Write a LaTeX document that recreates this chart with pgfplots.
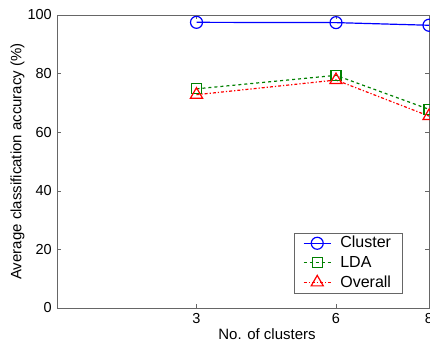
\documentclass[border=0pt]{standalone}
\usepackage{pgfplots}
\pgfplotsset{compat=1.18}
\usepackage{fontspec}
\setmainfont{Liberation Sans}
\definecolor{mgreen}{rgb}{0,0.5,0}
\begin{document}
\fontsize{15}{17}\selectfont
\begin{tikzpicture}
\begin{axis}[
  scale only axis,
  width=372pt, height=293pt,
  xmin=0, xmax=8, ymin=0, ymax=100,
  xtick={3,6,8}, ytick={0,20,40,60,80,100},
  tick align=inside,
  major tick length=4pt,
  axis line style={gray!80!black},
  tick style={gray!80!black},
  /pgf/number format/assume math mode=true,
  ticklabel style={font=\fontsize{14.5}{16}\selectfont},
  label style={font=\fontsize{15}{17}\selectfont},
  xlabel={No. of clusters},
  ylabel={Average classification accuracy (\%)},
  xlabel style={xshift=24pt, yshift=5pt},
  ylabel style={yshift=-7pt},
  legend style={at={(axis description cs:0.928,0.0512)}, anchor=south east,
    draw=gray!80!black, font=\fontsize{16}{18}\selectfont,
    row sep=2pt, inner xsep=9pt, inner ysep=1.5pt,
    nodes={inner sep=2pt},
    /tikz/every odd column/.append style={column sep=7pt}},
  legend cell align=left,
  legend image code/.code={%
    \draw[mark repeat=2,mark phase=2] plot coordinates {(0pt,0pt) (13.5pt,0pt) (27pt,0pt)};},
  clip=false,
]
\addplot[blue, line width=1.2pt, mark=o, mark size=6pt, mark options={solid}]
  coordinates {(3,97.5) (6,97.4) (8,96.5)};
\addlegendentry{Cluster}
\addplot[mgreen, line width=1.2pt, dashed, mark=square, mark size=5pt, mark options={solid}]
  coordinates {(3,74.8) (6,79.4) (8,67.8)};
\addlegendentry{LDA}
\addplot[red, line width=1.2pt, dash dot, mark=triangle, mark size=7pt, mark options={solid}]
  coordinates {(3,72.8) (6,77.8) (8,65.5)};
\addlegendentry{Overall}
\end{axis}
\pgfresetboundingbox
\path ([xshift=-57pt,yshift=-37pt]current axis.south west) rectangle ([xshift=1pt,yshift=15pt]current axis.north east);
\end{tikzpicture}
\end{document}
